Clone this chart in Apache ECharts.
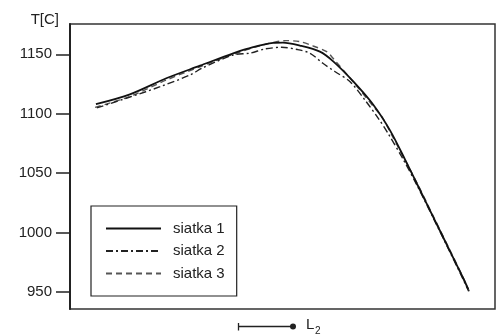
<!DOCTYPE html>
<html><head><meta charset="utf-8">
<script src="https://cdn.jsdelivr.net/npm/echarts@6/dist/echarts.min.js"></script>
<style>html,body{margin:0;padding:0;background:#fff}#c{width:496px;height:336px}</style>
</head><body><div id="c"></div>
<script>
const seriesNames = ['siatka 1', 'siatka 2', 'siatka 3'];
const yTicks = [950, 1000, 1050, 1100, 1150];
// x: position along L2 (arbitrary 0-100 units), y: temperature
const siatka1 = [[6.1,1108],[14.1,1116.3],[22.8,1130],[30.6,1140.4],[38.4,1150.8],[41.6,1154.5],[47.8,1159.6],[50.1,1159.8],[54.1,1157.3],[58.8,1152.2],[62.0,1143.8],[66.7,1126.9],[71.4,1107.3],[75.3,1085.9],[78.9,1060.9],[81.6,1041.2],[85.5,1012.7],[89.4,984.2],[92.5,961.6],[93.7,952.2]];
const siatka2 = [[6.3,1104.8],[14.1,1114],[21.2,1122.7],[28.2,1132.5],[31.3,1138.7],[38.4,1149.4],[42.4,1151],[45.9,1154.5],[49.8,1155.9],[53.5,1154],[56.5,1150.8],[59.5,1142.4],[62.4,1135.3],[65.9,1126.9],[69.5,1111],[72.5,1096.3],[74.8,1083.6],[78.4,1061.5],[81.6,1040],[85.5,1012],[89.4,983.5],[92.5,960.5],[93.8,950.5]];
const siatka3 = [[5.9,1105.3],[14.1,1114.5],[22.8,1128.5],[30.6,1139.5],[38.4,1150],[45,1157.5],[51,1161.5],[54.1,1160.6],[57.2,1157],[60.4,1152.2],[61.9,1146.6],[66.7,1126.5],[71.4,1106],[73.6,1096.3],[75.7,1082],[77.2,1072],[81.6,1042],[85.5,1013.5],[89.4,985],[92.5,962],[94,950]];

const chart = echarts.init(document.getElementById('c'), null, {renderer: 'canvas'});
const font = 'Liberation Sans, Arial, sans-serif';
chart.setOption({
  animation: false,
  backgroundColor: '#fff',
  grid: {left: 70, top: 24, right: 1, bottom: 27, show: true, borderColor: '#333', borderWidth: 1.5, backgroundColor: 'transparent'},
  xAxis: {type: 'value', min: 0, max: 100, axisLine: {show: false}, axisTick: {show: false}, axisLabel: {show: false}, splitLine: {show: false}},
  yAxis: {
    type: 'value', min: 935.5, max: 1175.5,
    name: 'T[C]', nameLocation: 'end', nameGap: -3,
    nameTextStyle: {fontFamily: font, fontSize: 15, color: '#222', align: 'right', verticalAlign: 'bottom', padding: [0, 11, 0, 0]},
    axisLine: {show: true, lineStyle: {color: '#222', width: 2}},
    axisTick: {show: true, length: 14, customValues: yTicks, lineStyle: {color: '#222', width: 1.5}},
    axisLabel: {customValues: yTicks, formatter: v => String(v), fontFamily: font, fontSize: 15, color: '#222', margin: 18},
    splitLine: {show: false}
  },
  legend: {
    orient: 'vertical', left: 91, top: 206,
    data: seriesNames,
    itemWidth: 55, itemHeight: 14, itemGap: 7.5,
    padding: [15, 12, 15, 14],
    borderColor: '#222', borderWidth: 1.2,
    itemStyle: {opacity: 0},
    textStyle: {fontFamily: font, fontSize: 15, color: '#222', padding: [0, 0, 0, 7]},
    selectedMode: false
  },
  series: [
    {name: seriesNames[0], type: 'line', data: siatka1, smooth: 0.3, symbol: 'none', lineStyle: {color: '#111', width: 1.8, type: 'solid'}, itemStyle: {color: '#111'}, z: 3},
    {name: seriesNames[1], type: 'line', data: siatka2, smooth: 0.3, symbol: 'none', lineStyle: {color: '#222', width: 1.4, type: [7, 3, 2, 3]}, itemStyle: {color: '#222'}, z: 2},
    {name: seriesNames[2], type: 'line', data: siatka3, smooth: 0.3, symbol: 'none', lineStyle: {color: '#555', width: 1.4, type: [6, 4]}, itemStyle: {color: '#555'}, z: 1}
  ],
  graphic: [
    {type: 'line', shape: {x1: 238, y1: 326.5, x2: 293, y2: 326.5}, style: {stroke: '#222', lineWidth: 1.3}},
    {type: 'line', shape: {x1: 238.5, y1: 323, x2: 238.5, y2: 330.5}, style: {stroke: '#222', lineWidth: 1.3}},
    {type: 'circle', shape: {cx: 293, cy: 326.5, r: 3}, style: {fill: '#222'}},
    {type: 'text', left: 306, top: 317, style: {text: 'L', font: '15px ' + font, fill: '#222'}},
    {type: 'text', left: 315, top: 326, style: {text: '2', font: '10px ' + font, fill: '#222'}}
  ]
});
</script></body></html>
